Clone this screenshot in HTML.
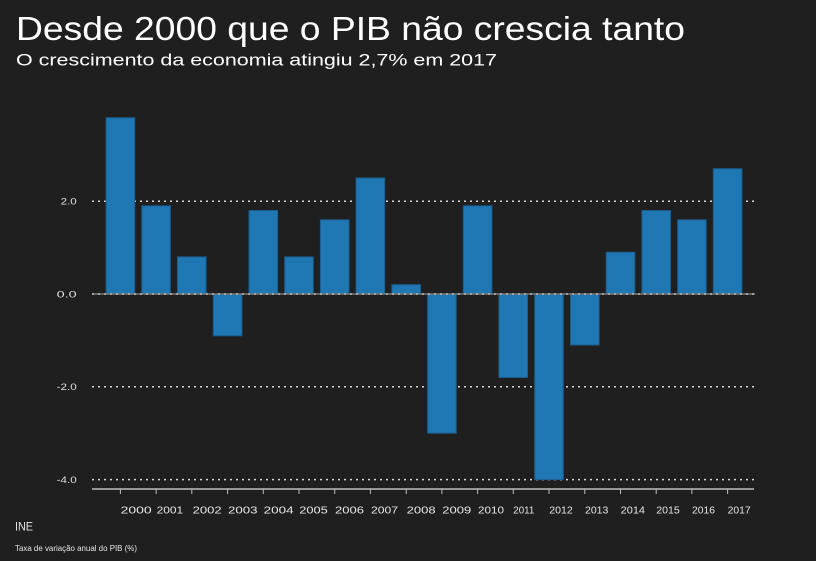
<!DOCTYPE html>
<html><head><meta charset="utf-8"><style>
html,body{margin:0;padding:0;background:#1f1f1f;}
svg{display:block;}
text{font-family:"Liberation Sans",sans-serif;}
</style></head><body>
<svg width="816" height="561" viewBox="0 0 816 561" xmlns="http://www.w3.org/2000/svg">
<rect width="816" height="561" fill="#1f1f1f"/>
<text x="16" y="40" font-size="33" fill="#ffffff" textLength="669" lengthAdjust="spacingAndGlyphs">Desde 2000 que o PIB não crescia tanto</text>
<text x="16" y="65.7" font-size="17" fill="#ffffff" textLength="481" lengthAdjust="spacingAndGlyphs">O crescimento da economia atingiu 2,7% em 2017</text>

<g stroke="#d8d8d8" stroke-width="1.5" stroke-dasharray="2 4">
<line x1="92" y1="201.2" x2="755" y2="201.2"/>
<line x1="92" y1="386.8" x2="755" y2="386.8"/>
<line x1="92" y1="479.6" x2="755" y2="479.6"/>
</g>

<g fill="#1f77b4" stroke="#1a5d8c" stroke-width="1">
<rect x="106.1" y="117.7" width="28.6" height="176.3"/>
<rect x="141.8" y="205.8" width="28.6" height="88.2"/>
<rect x="177.5" y="256.9" width="28.6" height="37.1"/>
<rect x="213.3" y="294" width="28.6" height="41.8"/>
<rect x="249.0" y="210.5" width="28.6" height="83.5"/>
<rect x="284.7" y="256.9" width="28.6" height="37.1"/>
<rect x="320.4" y="219.8" width="28.6" height="74.2"/>
<rect x="356.1" y="178" width="28.6" height="116"/>
<rect x="391.9" y="284.7" width="28.6" height="9.3"/>
<rect x="427.6" y="294" width="28.6" height="139.2"/>
<rect x="463.3" y="205.8" width="28.6" height="88.2"/>
<rect x="499.0" y="294" width="28.6" height="83.5"/>
<rect x="534.7" y="294" width="28.6" height="185.6"/>
<rect x="570.5" y="294" width="28.6" height="51"/>
<rect x="606.2" y="252.2" width="28.6" height="41.8"/>
<rect x="641.9" y="210.5" width="28.6" height="83.5"/>
<rect x="677.6" y="219.8" width="28.6" height="74.2"/>
<rect x="713.3" y="168.7" width="28.6" height="125.3"/>
</g>

<line x1="92" y1="294" x2="755" y2="294" stroke="#7a7a7a" stroke-width="1.5"/>
<line x1="92" y1="294" x2="755" y2="294" stroke="#bbbbbb" stroke-width="1.5" stroke-dasharray="2 4"/>

<line x1="92" y1="489" x2="754" y2="489" stroke="#bdbdbd" stroke-width="1.5"/>
<g stroke="#bdbdbd" stroke-width="1">
<line x1="120.4" y1="489" x2="120.4" y2="494"/>
<line x1="156.1" y1="489" x2="156.1" y2="494"/>
<line x1="191.8" y1="489" x2="191.8" y2="494"/>
<line x1="227.6" y1="489" x2="227.6" y2="494"/>
<line x1="263.3" y1="489" x2="263.3" y2="494"/>
<line x1="299.0" y1="489" x2="299.0" y2="494"/>
<line x1="334.7" y1="489" x2="334.7" y2="494"/>
<line x1="370.4" y1="489" x2="370.4" y2="494"/>
<line x1="406.2" y1="489" x2="406.2" y2="494"/>
<line x1="441.9" y1="489" x2="441.9" y2="494"/>
<line x1="477.6" y1="489" x2="477.6" y2="494"/>
<line x1="513.3" y1="489" x2="513.3" y2="494"/>
<line x1="549.0" y1="489" x2="549.0" y2="494"/>
<line x1="584.8" y1="489" x2="584.8" y2="494"/>
<line x1="620.5" y1="489" x2="620.5" y2="494"/>
<line x1="656.2" y1="489" x2="656.2" y2="494"/>
<line x1="691.9" y1="489" x2="691.9" y2="494"/>
<line x1="727.6" y1="489" x2="727.6" y2="494"/>
</g>

<g font-size="10" fill="#e6e6e6" lengthAdjust="spacingAndGlyphs">
<text x="120.7" y="513.3" textLength="31" lengthAdjust="spacingAndGlyphs">2000</text>
<text x="156.7" y="513.3" textLength="26.5" lengthAdjust="spacingAndGlyphs">2001</text>
<text x="192.7" y="513.3" textLength="29" lengthAdjust="spacingAndGlyphs">2002</text>
<text x="228" y="513.3" textLength="29.5" lengthAdjust="spacingAndGlyphs">2003</text>
<text x="263.7" y="513.3" textLength="30" lengthAdjust="spacingAndGlyphs">2004</text>
<text x="299.3" y="513.3" textLength="28.5" lengthAdjust="spacingAndGlyphs">2005</text>
<text x="335" y="513.3" textLength="29" lengthAdjust="spacingAndGlyphs">2006</text>
<text x="371" y="513.3" textLength="27" lengthAdjust="spacingAndGlyphs">2007</text>
<text x="406.7" y="513.3" textLength="29" lengthAdjust="spacingAndGlyphs">2008</text>
<text x="442.3" y="513.3" textLength="29" lengthAdjust="spacingAndGlyphs">2009</text>
<text x="478" y="513.3" textLength="26" lengthAdjust="spacingAndGlyphs">2010</text>
<text x="513.3" y="513.3" textLength="21" lengthAdjust="spacingAndGlyphs">2011</text>
<text x="549.3" y="513.3" textLength="23.5" lengthAdjust="spacingAndGlyphs">2012</text>
<text x="585" y="513.3" textLength="23.3" lengthAdjust="spacingAndGlyphs">2013</text>
<text x="620.7" y="513.3" textLength="24.3" lengthAdjust="spacingAndGlyphs">2014</text>
<text x="656.3" y="513.3" textLength="23.4" lengthAdjust="spacingAndGlyphs">2015</text>
<text x="692" y="513.3" textLength="23" lengthAdjust="spacingAndGlyphs">2016</text>
<text x="727.7" y="513.3" textLength="23" lengthAdjust="spacingAndGlyphs">2017</text>
</g>

<g font-size="9.5" fill="#e0e0e0">
<text x="60.7" y="204.6" textLength="16" lengthAdjust="spacingAndGlyphs">2.0</text>
<text x="56.7" y="297.5" textLength="20" lengthAdjust="spacingAndGlyphs">0.0</text>
<text x="56.7" y="390.2" textLength="20" lengthAdjust="spacingAndGlyphs">-2.0</text>
<text x="56.7" y="483" textLength="20" lengthAdjust="spacingAndGlyphs">-4.0</text>
</g>

<text x="15" y="530.7" font-size="11.5" fill="#e6e6e6" textLength="18" lengthAdjust="spacingAndGlyphs">INE</text>
<text x="15" y="551" font-size="8" fill="#e6e6e6" textLength="122" lengthAdjust="spacingAndGlyphs">Taxa de variação anual do PIB (%)</text>
</svg>
</body></html>
